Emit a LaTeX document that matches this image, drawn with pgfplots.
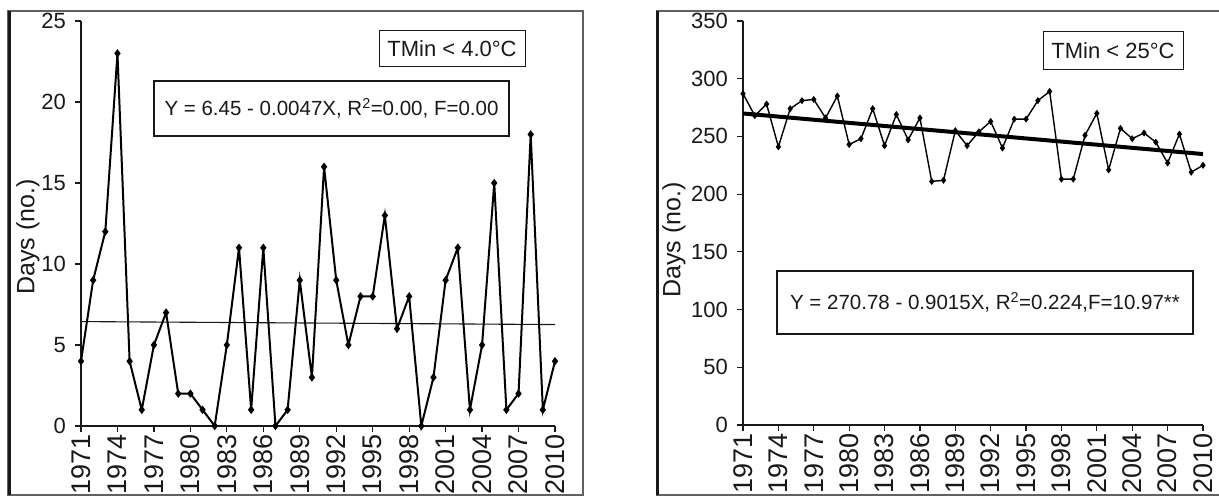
\documentclass[border=0pt]{standalone}
\usepackage{fontspec}
\setmainfont{Liberation Sans}
\usepackage{pgfplots}
\pgfplotsset{compat=1.18}

\definecolor{framegray}{gray}{0.38}
\definecolor{ink}{gray}{0.10}

\newcommand\xtickfont{\fontsize{27}{27}\selectfont}
\newcommand\ytickfont{\fontsize{22}{22}\selectfont}
\newcommand\labelfont{\fontsize{25}{25}\selectfont}

\pgfplotsset{
  yearaxis/.style={
    scale only axis, anchor=south west, clip=false,
    xmin=1971, xmax=2010, xtick={1971,1974,...,2010},
    axis x line*=bottom, axis y line*=left,
    axis line style={-, line width=1.2pt, ink},
    tick align=outside, major tick length=6pt,
    major tick style={line width=1.2pt, ink},
    /pgf/number format/assume math mode=true,
    xticklabel={\xtickfont\pgfmathprintnumber[1000 sep={}]{\tick}},
    yticklabel={\ytickfont\pgfmathprintnumber{\tick}},
    xticklabel style={rotate=90, anchor=east, inner sep=2pt, text=ink},
    yticklabel style={inner sep=3pt, xshift=-6pt, text=ink},
    ylabel style={anchor=center, text=ink},
  },
}
\tikzset{databox/.style={draw=ink, inner sep=0pt, text=ink}}

% Days with minimum temperature below 4.0 C, 1971--2010
\pgfplotstableread{
year days
1971 4
1972 9
1973 12
1974 23
1975 4
1976 1
1977 5
1978 7
1979 2
1980 2
1981 1
1982 0
1983 5
1984 11
1985 1
1986 11
1987 0
1988 1
1989 9
1990 3
1991 16
1992 9
1993 5
1994 8
1995 8
1996 13
1997 6
1998 8
1999 0
2000 3
2001 9
2002 11
2003 1
2004 5
2005 15
2006 1
2007 2
2008 18
2009 1
2010 4
}\cold

% Days with minimum temperature below 25 C, 1971--2010
\pgfplotstableread{
year days
1971 287
1972 268
1973 278
1974 241
1975 274
1976 281
1977 282
1978 266
1979 285
1980 243
1981 248
1982 274
1983 242
1984 269
1985 247
1986 266
1987 211
1988 212
1989 255
1990 242
1991 254
1992 263
1993 240
1994 265
1995 265
1996 281
1997 289
1998 213
1999 213
2000 251
2001 270
2002 221
2003 257
2004 248
2005 253
2006 245
2007 227
2008 252
2009 219
2010 225
}\warm

\begin{document}
\begin{tikzpicture}
\useasboundingbox (0,0) rectangle (1219pt,497pt);

% panel frames
\draw[framegray, line width=1.5pt] (8pt,2pt) rectangle (583pt,486pt);
\draw[ink, line width=3pt] (9pt,2pt) -- (9pt,486pt);
\draw[framegray, line width=1.5pt] (1230pt,2pt) -- (657pt,2pt) -- (657pt,486pt) -- (1230pt,486pt);
\draw[ink, line width=3pt] (657pt,2pt) -- (657pt,486pt);

% left panel
\begin{axis}[yearaxis, at={(81pt,71pt)}, width=474pt, height=405pt,
  ymin=0, ymax=25, ytick={0,5,...,25},
  ylabel={\labelfont Days (no.)},
  ylabel style={at={(axis description cs:-0.112,0.467)}}]
  \addplot[ink, line width=1.1pt] coordinates {(1971,6.4453) (2010,6.262)};
  \addplot[black, line width=2pt, mark=diamond*, mark size=2.6pt,
    mark options={solid, fill=black}] table[x=year, y=days] {\cold};
\end{axis}

% right panel
\begin{axis}[yearaxis, at={(743pt,72pt)}, width=460pt, height=404pt,
  ymin=0, ymax=350, ytick={0,50,...,350},
  ylabel={\labelfont Days (no.)},
  ylabel style={at={(axis description cs:-0.15,0.458)}}]
  \addplot[black, line width=1.4pt, mark=diamond*, mark size=2.4pt,
    mark options={solid, fill=black}] table[x=year, y=days] {\warm};
  \addplot[black, line width=4pt] coordinates {(1971,269.88) (2010,234.72)};
\end{axis}

% annotation boxes
\node[databox, line width=1pt, minimum width=146pt, minimum height=36pt,
  font=\fontsize{22}{22}\selectfont] at (452pt,448pt) {TMin < 4.0°C};
\node[databox, line width=2pt, minimum width=355pt, minimum height=55pt,
  font=\fontsize{20.5}{20.5}\selectfont] at (331.5pt,388.5pt)
  {Y = 6.45 - 0.0047X, R\textsuperscript{2}=0.00, F=0.00};
\node[databox, line width=1pt, minimum width=140pt, minimum height=38pt,
  font=\fontsize{22}{22}\selectfont] at (1113pt,446pt) {TMin < 25°C};
\node[databox, line width=2pt, minimum width=416pt, minimum height=63pt,
  font=\fontsize{20.5}{20.5}\selectfont] at (985pt,194.5pt)
  {Y = 270.78 - 0.9015X, R\textsuperscript{2}=0.224,F=10.97**};
\end{tikzpicture}
\end{document}
